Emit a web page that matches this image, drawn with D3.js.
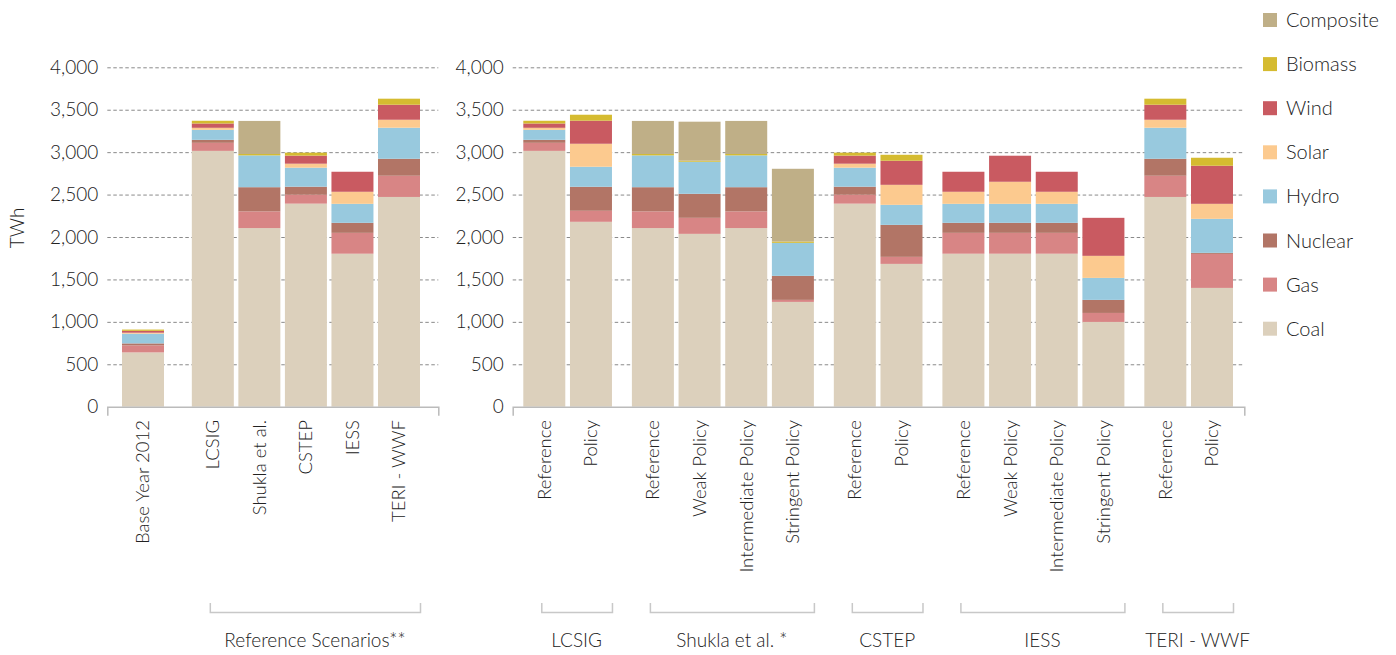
<!DOCTYPE html>
<html>
<head>
<meta charset="utf-8">
<script src="https://cdn.jsdelivr.net/npm/d3@7"></script>
<style>
body { margin: 0; background: #fff; }
text { font-family: Lato, "Open Sans", sans-serif; font-weight: 300; fill: #222; }
</style>
</head>
<body>
<div class="container"></div>
<script>
const wd = 1396
const ht = 655

// stack order, bottom to top
const fuels = ["Coal", "Gas", "Nuclear", "Hydro", "Solar", "Wind", "Biomass", "Composite"]
const colors = ["#dcd0bc", "#d88585", "#b27566", "#98c9de", "#fcca8f", "#c95a61", "#d5bb30", "#bfaf87"]

const leftCats = ["Base Year 2012", "LCSIG", "Shukla et al.", "CSTEP", "IESS", "TERI - WWF"]
const leftGroup = [0, 1, 1, 1, 1, 1]
const leftGroupNames = ["", "Reference Scenarios**"]

const rightCats = ["Reference", "Policy",
  "Reference", "Weak Policy", "Intermediate Policy", "Stringent Policy",
  "Reference", "Policy",
  "Reference", "Weak Policy", "Intermediate Policy", "Stringent Policy",
  "Reference", "Policy"]
const rightGroup = [0, 0, 1, 1, 1, 1, 2, 2, 3, 3, 3, 3, 4, 4]
const rightGroupNames = ["LCSIG", "Shukla et al. *", "CSTEP", "IESS", "TERI - WWF"]

const yTicks = [0, 500, 1000, 1500, 2000, 2500, 3000, 3500, 4000]

// TWh, first 6 = left panel, next 14 = right panel
const coal      = [640, 3015, 2105, 2393, 1803, 2472,  3015, 2179, 2105, 2037, 2105, 1235, 2393, 1683, 1803, 1803, 1803, 999, 2472, 1400]
const gas       = [82, 95, 197, 105, 246, 250,          95, 130, 197, 189, 197, 24, 105, 83, 246, 246, 246, 106, 250, 401]
const nuclear   = [24, 35, 285, 95, 118, 200,           35, 283, 285, 283, 285, 283, 95, 377, 118, 118, 118, 154, 200, 12]
const hydro     = [114, 118, 375, 224, 224, 366,        118, 236, 375, 378, 375, 389, 224, 236, 224, 224, 224, 259, 366, 401]
const solar     = [12, 24, 0, 47, 142, 94,              24, 271, 0, 0, 0, 0, 47, 236, 142, 260, 142, 260, 94, 177]
const wind      = [22, 51, 0, 95, 236, 177,             51, 272, 0, 0, 0, 0, 95, 284, 236, 307, 236, 448, 177, 449]
const biomass   = [15, 32, 16, 35, 0, 71,               32, 70, 16, 12, 16, 16, 35, 70, 0, 0, 0, 0, 71, 94]
const composite = [0, 0, 390, 0, 0, 0,                  0, 0, 390, 460, 390, 857, 0, 0, 0, 0, 0, 0, 0, 0]

const table = coal.map((d, i) => ({
  Coal: coal[i], Gas: gas[i], Nuclear: nuclear[i], Hydro: hydro[i],
  Solar: solar[i], Wind: wind[i], Biomass: biomass[i], Composite: composite[i]
}))
const series = d3.stack().keys(fuels)(table)

const svg = d3.select(".container")
  .append("svg")
  .attr("width", wd)
  .attr("height", ht)

const yScale = d3.scaleLinear()
  .domain([0, 4000])
  .range([406.7, 67.3])

const bw = 42

const panels = [
  {cats: leftCats, groups: leftGroup, names: leftGroupNames, offset: 0, gap: 0.5, barX: [122, 378], axisX: [107.3, 438.3]},
  {cats: rightCats, groups: rightGroup, names: rightGroupNames, offset: 6, gap: 0.327, barX: [523.3, 1191], axisX: [512.7, 1244.3]}
]

panels.forEach(p => {
  const pos = p.cats.map((c, i) => i + (p.groups[i] - p.groups[0]) * p.gap)
  const xScale = d3.scaleLinear()
    .domain([0, d3.max(pos)])
    .range(p.barX)

  // grid + y labels
  const grid = svg.append("g")
    .attr("transform", "translate(" + p.axisX[0] + ",0)")
    .call(d3.axisLeft(yScale)
      .tickValues(yTicks)
      .tickSizeInner(-(p.axisX[1] - p.axisX[0]))
      .tickSizeOuter(0)
      .tickPadding(9)
      .tickFormat(d3.format(",")))
  grid.select(".domain").remove()
  grid.selectAll(".tick line")
    .attr("stroke", "#8a8a8a")
    .attr("stroke-dasharray", "3.5,2.5")
    .filter(d => d === 0).remove()
  grid.selectAll(".tick text")
    .style("font-size", "19px")
    .attr("fill", "#222")

  // bars
  series.forEach((s, k) => {
    svg.append("g")
      .selectAll("rect")
      .data(p.cats.map((c, i) => ({i: i, v: s[p.offset + i]})).filter(d => d.v[1] > d.v[0]))
      .join("rect")
      .attr("x", d => xScale(pos[d.i]))
      .attr("y", d => yScale(d.v[1]))
      .attr("width", bw)
      .attr("height", d => yScale(d.v[0]) - yScale(d.v[1]))
      .attr("fill", colors[k])
  })

  // x axis line
  const xa = svg.append("g")
    .attr("transform", "translate(0," + yScale(0) + ")")
    .call(d3.axisBottom(d3.scaleLinear().range(p.axisX)).tickValues([]).tickSizeOuter(9))
  xa.select(".domain").attr("stroke", "#bbb").attr("stroke-width", 1.5)

  // category labels
  svg.append("g")
    .selectAll("text")
    .data(p.cats)
    .join("text")
    .attr("transform", (d, i) => "translate(" + (xScale(pos[i]) + bw / 2) + ",420) rotate(-90)")
    .attr("text-anchor", "end")
    .attr("dy", "0.35em")
    .style("font-size", "18.5px")
    .text(d => d)

  // group brackets
  p.names.forEach((name, g) => {
    if (!name) return
    const idx = p.groups.map((d, i) => d === g ? i : -1).filter(i => i >= 0)
    const x0 = xScale(pos[idx[0]]) + bw / 2 - 3
    const x1 = xScale(pos[idx[idx.length - 1]]) + bw
    const br = svg.append("g")
      .attr("transform", "translate(0,612)")
      .call(d3.axisTop(d3.scaleLinear().range([x0, x1])).tickValues([]).tickSizeOuter(9))
    br.select(".domain").attr("stroke", "#c8c8c8").attr("stroke-width", 1.5)
    svg.append("text")
      .attr("x", (x0 + x1) / 2)
      .attr("y", 647)
      .attr("text-anchor", "middle")
      .style("font-size", "19px")
      .text(name)
  })
})

// y title
svg.append("text")
  .attr("transform", "translate(17,228) rotate(-90)")
  .attr("text-anchor", "middle")
  .attr("dy", "0.35em")
  .style("font-size", "19px")
  .text("TWh")

// legend
const legend = svg.append("g")
fuels.slice().reverse().forEach((f, i) => {
  const yc = 20 + i * 44.1
  legend.append("rect")
    .attr("x", 1263)
    .attr("y", yc - 7)
    .attr("width", 14)
    .attr("height", 14)
    .attr("fill", colors[fuels.indexOf(f)])
  legend.append("text")
    .attr("x", 1286)
    .attr("y", yc)
    .attr("dy", "0.35em")
    .style("font-size", "20px")
    .text(f)
})
</script>
</body>
</html>
